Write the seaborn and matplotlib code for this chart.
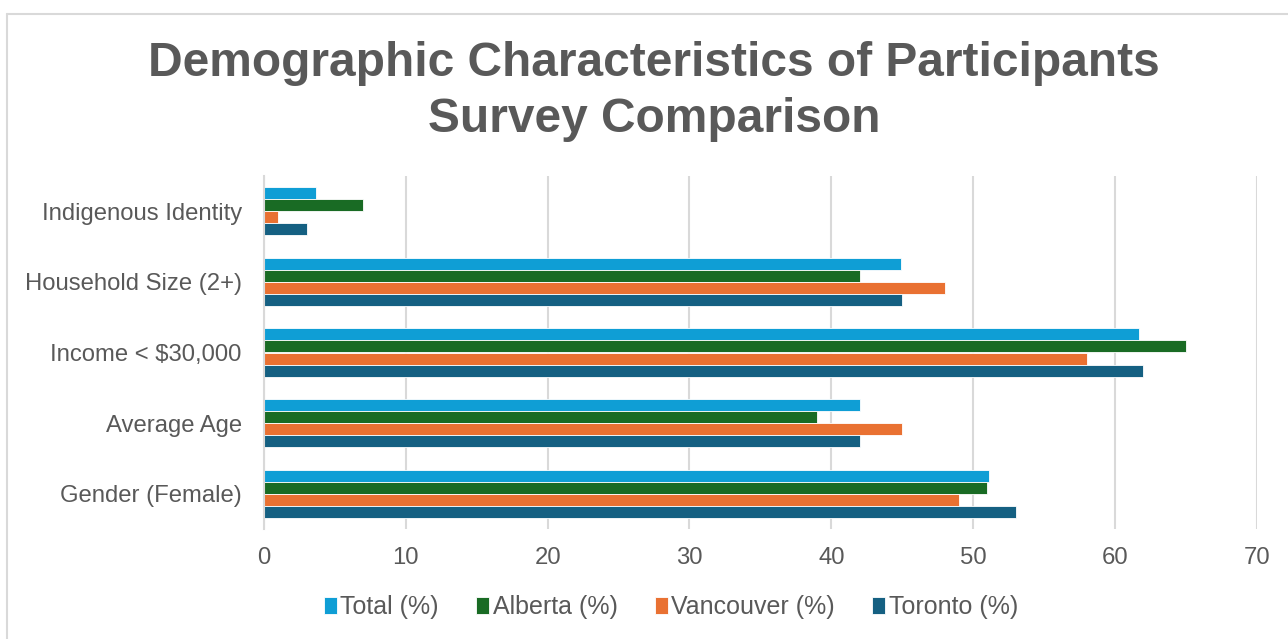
import matplotlib
matplotlib.use("Agg")
import matplotlib.pyplot as plt
from matplotlib.lines import Line2D
import seaborn as sns
import pandas as pd

categories = ["Indigenous Identity", "Household Size (2+)", "Income < $30,000",
              "Average Age", "Gender (Female)"]
series = ["Total (%)", "Alberta (%)", "Vancouver (%)", "Toronto (%)"]
total = [3.7, 44.9, 61.7, 42.0, 51.1]
alberta = [7.0, 42.0, 65.0, 39.0, 51.0]
vancouver = [1.0, 48.0, 58.0, 45.0, 49.0]
toronto = [3.0, 45.0, 62.0, 42.0, 53.0]
x_ticks = [0, 10, 20, 30, 40, 50, 60, 70]
colors = ["#0F9ED5", "#196B24", "#E97132", "#156082"]

rows = []
for name, vals in zip(series, [total, alberta, vancouver, toronto]):
    for cat, v in zip(categories, vals):
        rows.append({"Category": cat, "Series": name, "Value": v})
df = pd.DataFrame(rows)

sns.set_theme(style="white")
plt.rcParams["font.family"] = ["Liberation Sans", "DejaVu Sans"]

text_color = "#595959"
grid_color = "#D9D9D9"

fig = plt.figure(figsize=(12.88, 6.39), dpi=100)
ax = fig.add_axes([264 / 1288, 1 - 529 / 639, (1256.7 - 264) / 1288, (529 - 176) / 639])

sns.barplot(data=df, y="Category", x="Value", hue="Series", order=categories,
            hue_order=series, palette=colors, orient="h", width=0.68,
            edgecolor="white", linewidth=0.6, saturation=1, ax=ax, legend=True)

ax.set_xlim(0, 70)
ax.set_xticks(x_ticks)
ax.set_xticklabels([str(t) for t in x_ticks])
ax.set_ylim(len(categories) - 0.5, -0.5)
ax.set_xlabel("")
ax.set_ylabel("")
ax.xaxis.grid(True, color=grid_color, linewidth=1.5)
ax.set_axisbelow(True)
for side in ["top", "right", "bottom"]:
    ax.spines[side].set_visible(False)
ax.spines["left"].set_color(grid_color)
ax.spines["left"].set_linewidth(1.5)
ax.tick_params(axis="both", length=0, labelsize=17.2, colors=text_color)
ax.tick_params(axis="y", pad=16)
ax.tick_params(axis="x", pad=13)

handles, labels = ax.get_legend_handles_labels()
ax.get_legend().remove()
fig.legend(handles, labels, loc="center", bbox_to_anchor=(671 / 1288, 1 - 607 / 639),
           ncol=4, frameon=False, fontsize=18, labelcolor=text_color,
           handlelength=0.5, handleheight=0.7, handletextpad=0.15,
           columnspacing=1.5)

title_x = 654 / 1288
fig.text(title_x, 1 - 64 / 639, "Demographic Characteristics of Participants",
         ha="center", va="center", fontsize=34.5, fontweight="bold", color=text_color)
fig.text(title_x, 1 - 119 / 639, "Survey Comparison",
         ha="center", va="center", fontsize=34.5, fontweight="bold", color=text_color)

# chart frame along the top and left edges
fig.add_artist(Line2D([7 / 1288, 1.0], [1 - 14 / 639, 1 - 14 / 639],
                      transform=fig.transFigure, color=grid_color, linewidth=1.5))
fig.add_artist(Line2D([7 / 1288, 7 / 1288], [0.0, 1 - 14 / 639],
                      transform=fig.transFigure, color=grid_color, linewidth=1.5))

fig.savefig("out.png", dpi=100, facecolor="white")
